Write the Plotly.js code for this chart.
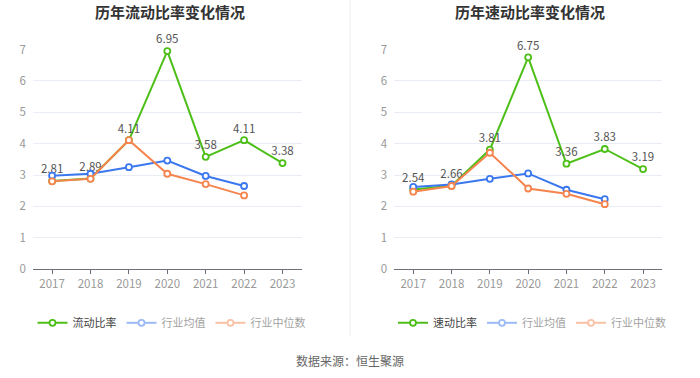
<!DOCTYPE html>
<html>
<head>
<meta charset="utf-8">
<script src="https://cdn.plot.ly/plotly-3.0.1.min.js"></script>
<style>html,body{margin:0;padding:0;background:#fff}#chart{width:700px;height:378px}</style>
</head>
<body>
<div id="chart"></div>
<script>
const years = ['2017','2018','2019','2020','2021','2022','2023'];
const yearsIndustry = ['2017','2018','2019','2020','2021','2022'];

// 左图：流动比率
const currentRatio = [2.81, 2.89, 4.11, 6.95, 3.58, 4.11, 3.38];
const currentIndustryMean = [2.98, 3.04, 3.25, 3.46, 2.97, 2.65];
const currentIndustryMedian = [2.80, 2.88, 4.11, 3.04, 2.71, 2.35];

// 右图：速动比率
const quickRatio = [2.54, 2.66, 3.81, 6.75, 3.36, 3.83, 3.19];
const quickIndustryMean = [2.62, 2.70, 2.88, 3.05, 2.53, 2.23];
const quickIndustryMedian = [2.47, 2.65, 3.71, 2.57, 2.40, 2.07];

const yTicks = [0, 1, 2, 3, 4, 5, 6, 7];

const GREEN = '#4dbf18', BLUE = '#3b78ef', ORANGE = '#f5844f';
const FONT = '"Noto Sans CJK SC", "Noto Sans", sans-serif';

function line(x, y, color, name, xa, ya, opts) {
  return Object.assign({
    type: 'scatter', mode: 'lines+markers', x: x, y: y, name: name,
    xaxis: xa, yaxis: ya,
    line: {color: color, width: 2},
    marker: {symbol: 'circle', size: 6, color: '#fff', line: {color: color, width: 1.8}},
    cliponaxis: false, hoverinfo: 'skip'
  }, opts || {});
}

const labelOpts = (vals) => ({
  mode: 'lines+markers+text',
  text: vals.map(v => v.toFixed(2)),
  textposition: 'top center',
  textfont: {size: 11.5, color: '#555', family: FONT}
});

const traces = [
  line(years, currentRatio, GREEN, '流动比率', 'x', 'y', Object.assign(labelOpts(currentRatio), {legend: 'legend', showlegend: true})),
  line(yearsIndustry, currentIndustryMean, BLUE, '行业均值', 'x', 'y', {showlegend: false}),
  line(yearsIndustry, currentIndustryMedian, ORANGE, '行业中位数', 'x', 'y', {showlegend: false}),
  line(yearsIndustry, currentIndustryMean, BLUE, '行业均值', 'x', 'y', {legend: 'legend', visible: 'legendonly'}),
  line(yearsIndustry, currentIndustryMedian, ORANGE, '行业中位数', 'x', 'y', {legend: 'legend', visible: 'legendonly'}),

  line(years, quickRatio, GREEN, '速动比率', 'x2', 'y2', Object.assign(labelOpts(quickRatio), {legend: 'legend2', showlegend: true})),
  line(yearsIndustry, quickIndustryMean, BLUE, '行业均值', 'x2', 'y2', {showlegend: false}),
  line(yearsIndustry, quickIndustryMedian, ORANGE, '行业中位数', 'x2', 'y2', {showlegend: false}),
  line(yearsIndustry, quickIndustryMean, BLUE, '行业均值', 'x2', 'y2', {legend: 'legend2', visible: 'legendonly'}),
  line(yearsIndustry, quickIndustryMedian, ORANGE, '行业中位数', 'x2', 'y2', {legend: 'legend2', visible: 'legendonly'})
];

function xaxis(domain, anchor) {
  return {
    domain: domain, anchor: anchor, type: 'category',
    categoryorder: 'array', categoryarray: years,
    range: [-0.5, 6.5], showgrid: false, zeroline: false,
    showline: true, linecolor: '#6e7079', linewidth: 1,
    ticks: 'outside', ticklen: 4, tickcolor: '#6e7079',
    tickfont: {size: 11.5, color: '#999', family: FONT}, fixedrange: true,
    automargin: false
  };
}
function yaxis(anchor) {
  return {
    domain: [0.288, 0.869], anchor: anchor, range: [0, 7],
    tickvals: yTicks, ticktext: yTicks.map(String),
    showgrid: true, gridcolor: '#e9edf5', gridwidth: 1,
    zeroline: false, showline: false, ticks: '', ticklabelstandoff: 6,
    tickfont: {size: 11.5, color: '#999', family: FONT}, fixedrange: true,
    automargin: false
  };
}

const legendBase = {
  orientation: 'h', yanchor: 'middle', y: 0.146, xanchor: 'center',
  font: {size: 11, color: '#444', family: FONT}, itemclick: false, itemdoubleclick: false,
  bgcolor: 'rgba(0,0,0,0)', itemwidth: 30, tracegroupgap: 0
};

const layout = {
  width: 700, height: 378, margin: {l: 0, r: 0, t: 0, b: 0, autoexpand: false},
  paper_bgcolor: '#fff', plot_bgcolor: '#fff',
  font: {family: FONT},
  xaxis: xaxis([0.047, 0.431], 'y'),
  yaxis: yaxis('x'),
  xaxis2: xaxis([0.563, 0.946], 'y2'),
  yaxis2: yaxis('x2'),
  legend: Object.assign({}, legendBase, {x: 0.245}),
  legend2: Object.assign({}, legendBase, {x: 0.76}),
  showlegend: true,
  annotations: [
    {text: '<b>历年流动比率变化情况</b>', xref: 'paper', yref: 'paper', x: 0.243, y: 0.97, xanchor: 'center', yanchor: 'middle', showarrow: false, font: {size: 15, color: '#333', family: FONT}},
    {text: '<b>历年速动比率变化情况</b>', xref: 'paper', yref: 'paper', x: 0.757, y: 0.97, xanchor: 'center', yanchor: 'middle', showarrow: false, font: {size: 15, color: '#333', family: FONT}},
    {text: '数据来源：恒生聚源', xref: 'paper', yref: 'paper', x: 0.5, y: 0.045, xanchor: 'center', yanchor: 'middle', showarrow: false, font: {size: 12, color: '#666', family: FONT}}
  ],
  shapes: [
    {type: 'line', xref: 'paper', yref: 'paper', x0: 0.5, x1: 0.5, y0: 0.11, y1: 1, line: {color: '#f0f0f0', width: 1}}
  ]
};

Plotly.newPlot('chart', traces, layout, {displayModeBar: false, staticPlot: true});
</script>
</body>
</html>
